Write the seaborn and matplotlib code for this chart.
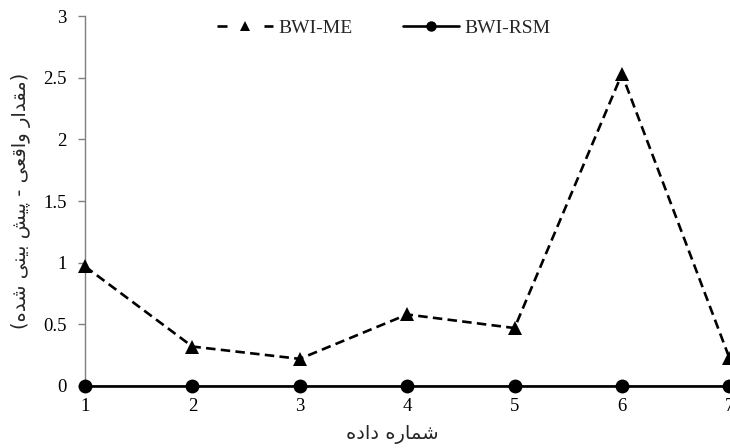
import numpy as np
import pandas as pd
import matplotlib
matplotlib.use("Agg")
import matplotlib.pyplot as plt
import seaborn as sns

# data
data_no = [1, 2, 3, 4, 5, 6, 7]
bwi_me = [0.97, 0.32, 0.22, 0.58, 0.47, 2.53, 0.23]
bwi_rsm = [0, 0, 0, 0, 0, 0, 0]
y_ticks = [0, 0.5, 1, 1.5, 2, 2.5, 3]

x_label = "شماره داده"
y_label = "(مقدار واقعی - پیش بینی شده)"

# ── minimal Persian shaping (matplotlib has no RTL / joining) ────────────────
# letter: (isolated, final, initial, medial); None = letter never joins left
FORMS = {
    "ا": ("\uFE8D", "\uFE8E", None, None),
    "ب": ("\uFE8F", "\uFE90", "\uFE91", "\uFE92"),
    "پ": ("\uFB56", "\uFB57", "\uFB58", "\uFB59"),
    "د": ("\uFEA9", "\uFEAA", None, None),
    "ر": ("\uFEAD", "\uFEAE", None, None),
    "ش": ("\uFEB5", "\uFEB6", "\uFEB7", "\uFEB8"),
    "ع": ("\uFEC9", "\uFECA", "\uFECB", "\uFECC"),
    "ق": ("\uFED5", "\uFED6", "\uFED7", "\uFED8"),
    "م": ("\uFEE1", "\uFEE2", "\uFEE3", "\uFEE4"),
    "ن": ("\uFEE5", "\uFEE6", "\uFEE7", "\uFEE8"),
    "ه": ("\uFEE9", "\uFEEA", "\uFEEB", "\uFEEC"),
    "و": ("\uFEED", "\uFEEE", None, None),
    "ی": ("\uFBFC", "\uFBFD", "\uFBFE", "\uFBFF"),
}
MIRROR = {"(": ")", ")": "("}


def shape_fa(text):
    out = []
    for i, ch in enumerate(text):
        if ch not in FORMS:
            out.append(ch)
            continue
        prev = text[i - 1] if i > 0 else ""
        nxt = text[i + 1] if i + 1 < len(text) else ""
        join_prev = prev in FORMS and FORMS[prev][2] is not None
        join_next = nxt in FORMS and FORMS[ch][2] is not None
        iso, fin, ini, med = FORMS[ch]
        if join_prev and join_next:
            out.append(med)
        elif join_prev:
            out.append(fin)
        elif join_next:
            out.append(ini)
        else:
            out.append(iso)
    return "".join(MIRROR.get(c, c) for c in reversed(out))


df = pd.DataFrame({
    "n": data_no * 2,
    "value": bwi_me + bwi_rsm,
    "series": ["BWI-ME"] * len(data_no) + ["BWI-RSM"] * len(data_no),
})

sns.set_theme(style="white")
plt.rcParams["font.family"] = ["Liberation Serif", "DejaVu Sans"]

fig = plt.figure(figsize=(7.3, 4.48), dpi=100)
ax = fig.add_axes([0.1164, 0.1384, 0.8826, 0.8256])

sns.lineplot(
    data=df, x="n", y="value", hue="series", style="series",
    palette={"BWI-ME": "black", "BWI-RSM": "black"},
    dashes={"BWI-ME": (3.6, 2.0), "BWI-RSM": ""},
    markers={"BWI-ME": "^", "BWI-RSM": "o"},
    markersize=10, markeredgewidth=0, linewidth=1.9,
    ax=ax, clip_on=False, zorder=3,
)

ax.set_xlim(1, 7)
ax.set_ylim(0, 3)
ax.set_xticks(data_no)
ax.set_yticks(y_ticks)
ax.set_yticklabels([f"{t:g}" for t in y_ticks])

for s in ["top", "right"]:
    ax.spines[s].set_visible(False)
ax.spines["left"].set_color("#7f7f7f")
ax.spines["left"].set_linewidth(1)
ax.spines["bottom"].set_color("#7f7f7f")

ax.tick_params(axis="y", length=5, width=1, color="#7f7f7f", direction="out",
               labelsize=13.5, labelcolor="black", pad=8, left=True)
ax.tick_params(axis="x", length=0, labelsize=13.5, labelcolor="black", pad=9)

ax.set_xlabel(shape_fa(x_label), family="DejaVu Sans", fontsize=14)
ax.xaxis.set_label_coords(0.477, -0.105)
ax.set_ylabel(shape_fa(y_label), family="DejaVu Sans", fontsize=14)
ax.yaxis.set_label_coords(-0.083, 0.5)

leg = ax.legend(
    loc="center", bbox_to_anchor=(0.526, 0.9375), bbox_transform=fig.transFigure,
    ncol=2, frameon=False, handlelength=2.85, columnspacing=2.6,
    handletextpad=0.3, fontsize=14,
)
for t in leg.get_texts():
    t.set_family("Liberation Serif")
for h in leg.legend_handles:
    h.set_markersize(7.5)
# legend dashed handle: short dash, marker, short dash (as in the reference)
leg.legend_handles[0].set_dashes((3.8, 14.0))

fig.savefig("out.png", dpi=100)
